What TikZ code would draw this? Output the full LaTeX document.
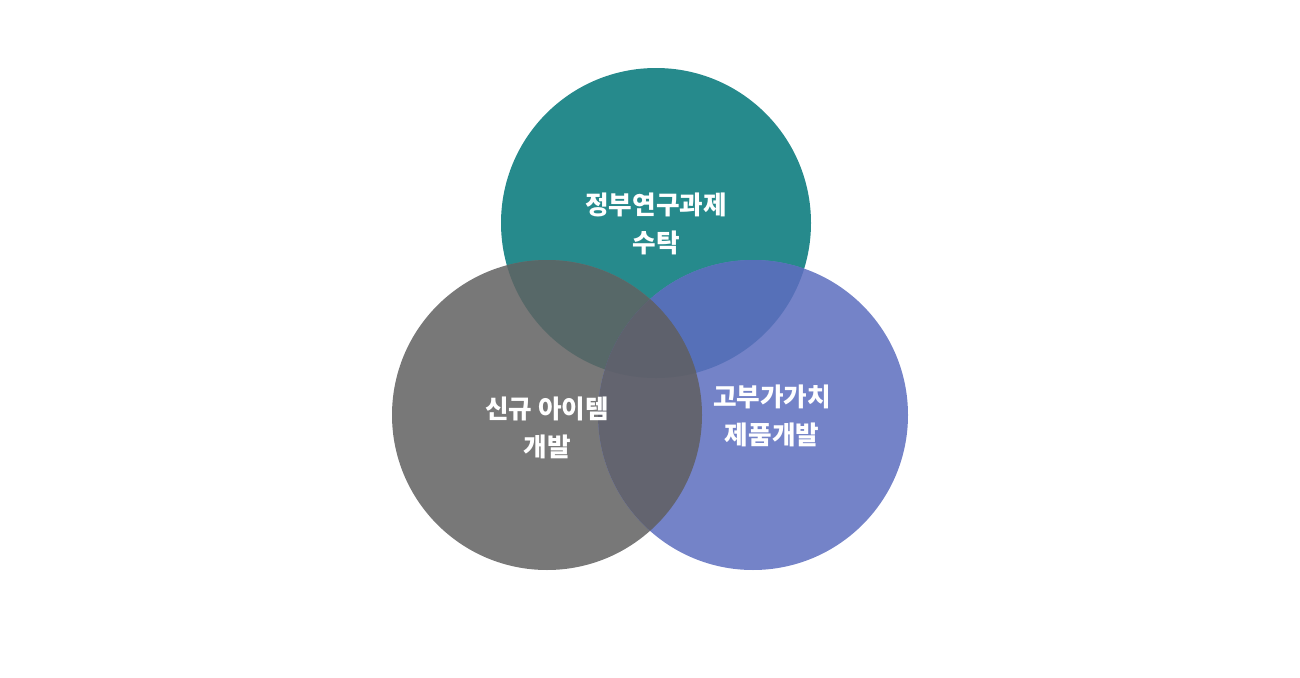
\documentclass[tikz,border=0pt]{standalone}
\usepackage{fontspec}
\newfontfamily\kr{Noto Sans CJK KR}
\definecolor{cteal}{HTML}{268A8C}
\definecolor{cgray}{HTML}{787878}
\definecolor{cblue}{HTML}{7483C8}
\definecolor{ctg}{HTML}{576868}
\definecolor{ctb}{HTML}{5670B8}
\definecolor{cgb}{HTML}{63646F}
\definecolor{call}{HTML}{5E616C}
\tikzset{
  lbl/.style={text=white, font=\kr\bfseries\fontsize{19.2pt}{28pt}\selectfont, align=center}
}
\begin{document}
\begin{tikzpicture}[x=0.75pt,y=-0.75pt]
\useasboundingbox (0,0) rectangle (1300,678);
\def\R{116.25pt}
\coordinate (T) at (656,223);
\coordinate (L) at (547,415);
\coordinate (B) at (753,415);
\fill[cteal] (T) circle[radius=\R];
\fill[cgray] (L) circle[radius=\R];
\fill[cblue] (B) circle[radius=\R];
\begin{scope}
  \clip (T) circle[radius=\R];
  \fill[ctg] (L) circle[radius=\R];
  \fill[ctb] (B) circle[radius=\R];
\end{scope}
\begin{scope}
  \clip (L) circle[radius=\R];
  \fill[cgb] (B) circle[radius=\R];
  \clip (T) circle[radius=\R];
  \fill[call] (B) circle[radius=\R];
\end{scope}
\node[lbl] (tt) at (656,224) {정부연구과제\\수탁};
\node[lbl] (lt) at (547,428) {신규 아이템\\개발};
\node[lbl] (rt) at (772,416) {고부가가치\\제품개발};
\end{tikzpicture}
\end{document}
